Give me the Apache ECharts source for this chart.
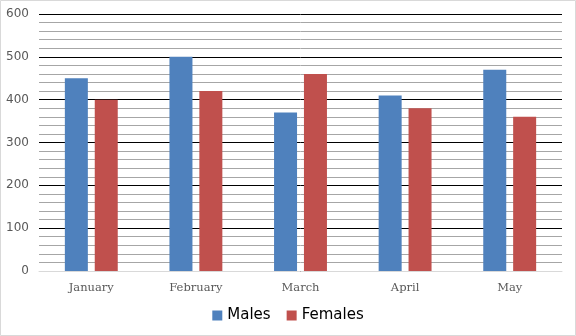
<!DOCTYPE html>
<html><head><meta charset="utf-8">
<script src="https://cdn.jsdelivr.net/npm/echarts@6/dist/echarts.min.js"></script>
<style>html,body{margin:0;padding:0;background:#fff}#c{width:576px;height:336px}</style>
</head><body><div id="c"></div>
<script>
var categories = ['January', 'February', 'March', 'April', 'May'];
var males = [450, 500, 370, 410, 470];
var females = [400, 420, 460, 380, 360];
var seriesNames = ['Males', 'Females'];

var chart = echarts.init(document.getElementById('c'), null, {renderer: 'canvas'});
chart.setOption({
  animation: false,
  backgroundColor: '#fff',
  graphic: [{type: 'rect', shape: {x: 0.5, y: 0.5, width: 575, height: 335}, style: {fill: 'none', stroke: '#d9d9d9', lineWidth: 1}, silent: true}],
  grid: {left: 39, right: 14, top: 14, bottom: 65, containLabel: false},
  legend: {
    data: seriesNames, bottom: 8, left: 'center', itemWidth: 10, itemHeight: 10, itemGap: 16,
    icon: 'rect',
    textStyle: {fontFamily: 'DejaVu Sans', fontSize: 15, color: '#000'}
  },
  xAxis: {
    type: 'category', data: categories,
    axisLine: {show: true, lineStyle: {color: '#d9d9d9'}},
    axisTick: {show: false},
    axisLabel: {fontFamily: 'DejaVu Serif', fontSize: 11.5, color: '#595959', margin: 11}
  },
  yAxis: {
    type: 'value', min: 0, max: 600, interval: 100,
    axisLine: {show: false}, axisTick: {show: false},
    axisLabel: {fontFamily: 'DejaVu Sans', fontSize: 12, color: '#595959', margin: 10},
    splitLine: {show: true, lineStyle: {color: '#000', width: 1}},
    minorTick: {show: false, splitNumber: 5},
    minorSplitLine: {show: true, lineStyle: {color: '#a6a6a6', width: 1}}
  },
  series: [
    {name: seriesNames[0], type: 'bar', data: males, barWidth: 23, barGap: '30%', itemStyle: {color: '#4f81bd', borderWidth: 0}},
    {name: seriesNames[1], type: 'bar', data: females, barWidth: 23, itemStyle: {color: '#c0504d', borderWidth: 0}}
  ]
});
</script></body></html>
